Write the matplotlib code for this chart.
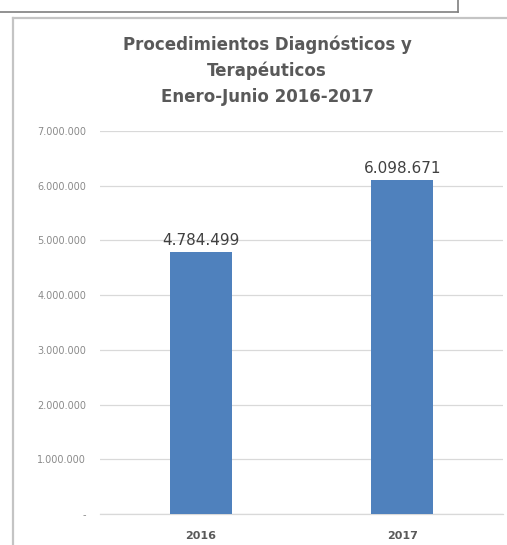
import matplotlib
matplotlib.use("Agg")
import matplotlib.pyplot as plt
from matplotlib.lines import Line2D

categories = ["2016", "2017"]
values = [4784499, 6098671]
value_labels = ["4.784.499", "6.098.671"]
yticks = [0, 1000000, 2000000, 3000000, 4000000, 5000000, 6000000, 7000000]
ytick_labels = ["-", "1.000.000", "2.000.000", "3.000.000", "4.000.000",
                "5.000.000", "6.000.000", "7.000.000"]
title_lines = ["Procedimientos Diagnósticos y", "Terapéuticos", "Enero-Junio 2016-2017"]

W, H = 507, 545
fig = plt.figure(figsize=(W / 100, H / 100), dpi=100)
fig.patch.set_facecolor("white")

def fx(x):
    return x / W

def fy(y):
    return 1 - y / H

# decorative frames
fig.add_artist(Line2D([fx(0), fx(458)], [fy(12), fy(12)], color="#7f7f7f", lw=1.2))
fig.add_artist(Line2D([fx(458), fx(458)], [fy(0), fy(12)], color="#7f7f7f", lw=1.2))
fig.add_artist(Line2D([fx(13), fx(507)], [fy(17.5), fy(17.5)], color="#c4c4c4", lw=1.6))
fig.add_artist(Line2D([fx(13), fx(13)], [fy(17.5), fy(545)], color="#c4c4c4", lw=1.6))

ax = fig.add_axes([fx(100), fy(514), fx(503) - fx(100), fy(131) - fy(514)])
x = range(len(categories))
ax.bar(x, values, width=0.31, color="#4F81BD", zorder=3)
ax.set_xlim(-0.5, 1.5)
ax.set_ylim(0, 7000000)
ax.set_yticks(yticks)
ax.set_yticklabels(ytick_labels, fontsize=7, color="#8a8a8a")
ax.set_xticks(list(x))
ax.set_xticklabels(categories, fontsize=8, color="#595959", fontweight="bold")
ax.tick_params(axis="both", length=0)
ax.tick_params(axis="y", pad=10)
ax.tick_params(axis="x", pad=12)
ax.grid(axis="y", color="#d9d9d9", lw=0.9, zorder=0)
ax.axhline(0, color="#d9d9d9", lw=0.9, zorder=1, clip_on=False)
for s in ax.spines.values():
    s.set_visible(False)

for xi, v, lab in zip(x, values, value_labels):
    ax.annotate(lab, (xi, v), xytext=(0, 3), textcoords="offset points",
                ha="center", va="bottom", fontsize=11, color="#404040")

ys = [45, 71, 97]
for t, y in zip(title_lines, ys):
    fig.text(fx(267), fy(y), t, ha="center", va="center", fontsize=12,
             fontweight="bold", color="#595959")

fig.savefig("out.png", dpi=100, facecolor="white")
